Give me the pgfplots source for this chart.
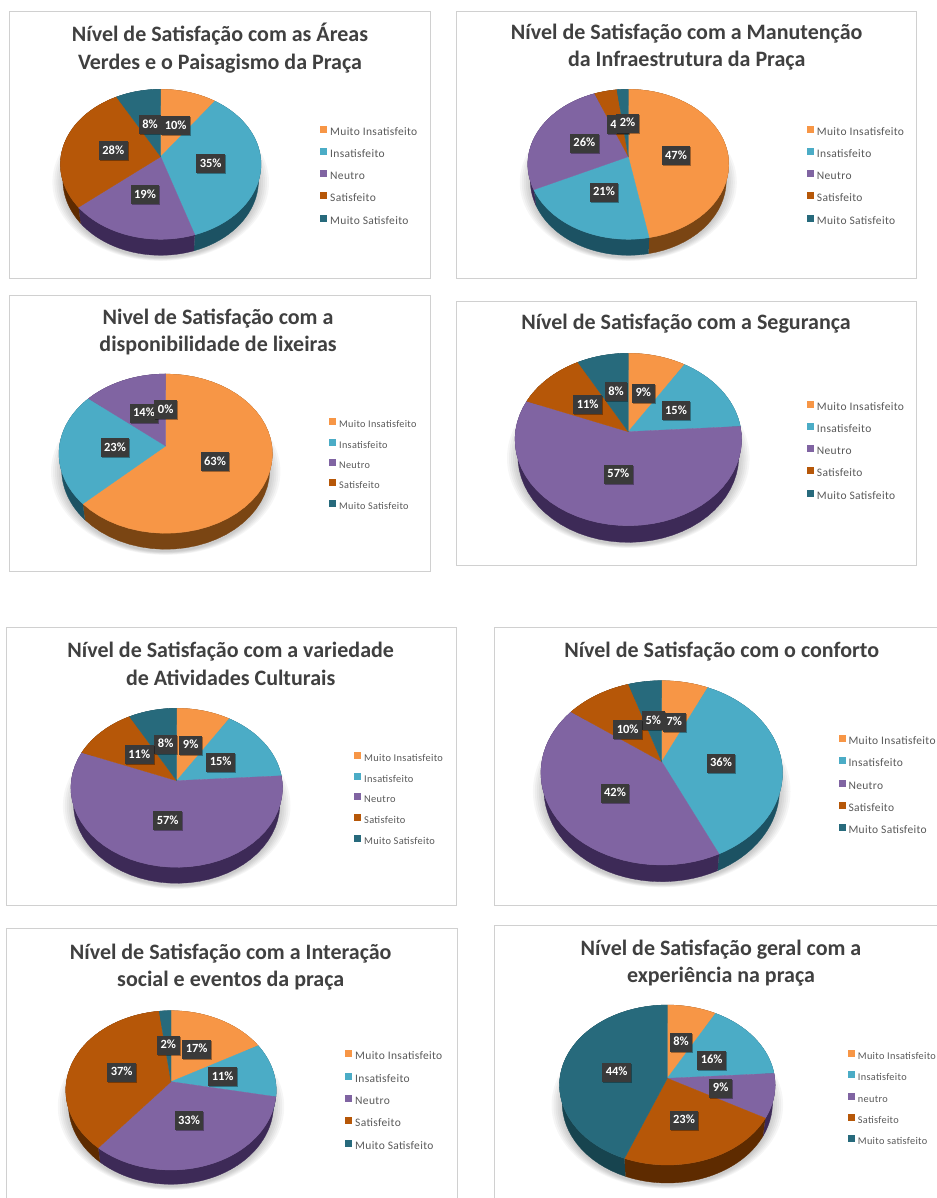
\documentclass[border=0pt]{standalone}
\usepackage{fontspec}
\setmainfont{Carlito}
\usepackage{pgfplots}
\pgfplotsset{compat=1.18}
\usetikzlibrary{shadows}
\definecolor{corA}{HTML}{F79646}
\definecolor{corB}{HTML}{4BACC6}
\definecolor{corC}{HTML}{8064A2}
\definecolor{corD}{HTML}{B65708}
\definecolor{corE}{HTML}{276A7C}
\definecolor{ladoA}{HTML}{7A4513}
\definecolor{ladoB}{HTML}{1C5263}
\definecolor{ladoC}{HTML}{3D2A57}
\definecolor{ladoD}{HTML}{5E2B00}
\definecolor{ladoE}{HTML}{17444F}
\definecolor{moldura}{HTML}{D0D0D0}
\definecolor{tituloc}{HTML}{404040}
\definecolor{caixa}{HTML}{3A3A3A}
\definecolor{leg}{HTML}{595959}
% geometry of one pie: centre x, apex y, half width, top y, bottom y, depth (pixels)
\newcommand\SetPie[6]{%
  \pgfmathsetmacro\PX{#1}\pgfmathsetmacro\PY{#2}\pgfmathsetmacro\PD{#6}%
  \pgfmathsetmacro\PK{((#5-#2)-(#2-#4))/((#5-#2)+(#2-#4))}%
  \pgfmathsetmacro\PB{(#2-#4)*(1+\PK)}%
  \pgfmathsetmacro\PA{#3*sqrt(1-\PK*\PK)}%
  \pgfmathsetmacro\PCY{(#4+#5)/2+#6+2}%
  \pgfmathsetmacro\PHW{#3}\pgfmathsetmacro\PRY{(#5-#4)/2}%
}
\def\FX#1{(\PX+\PA*cos(#1)/(1+\PK*sin(#1)))}
\def\FXB#1{(\PX+(1-0.025*(\u>1.1))*\PA*cos(#1)/(1+\PK*sin(#1)))}
\def\FY#1{(\PY-\PB*sin(#1)/(1+\PK*sin(#1)))}
% side wall of a slice between two cumulative percentages
\newcommand\DoBand[3]{%
  \addplot[forget plot,fill=#3,draw=#3,line width=.3pt,no marks,domain=0:2.2,samples=89,variable=\u]
   ({\FXB{(90-3.6*(#1+(#2-#1)*max(0,min(1,1.1-abs(\u-1.1)))))}},
    {\FY{(90-3.6*(#1+(#2-#1)*max(0,min(1,1.1-abs(\u-1.1)))))}+\PD*(\u>1.1)});
}
% top face of a slice
\newcommand\DoTop[3]{%
  \addplot[forget plot,fill=#3,draw=#3,line width=.3pt,no marks,domain=#1:#2,samples=41,variable=\p]
   ({\FX{(90-3.6*\p)}},{\FY{(90-3.6*\p)}}) -- (axis cs:\PX,\PY) -- cycle;
}
\newcommand\DoSh[1]{\fill[black,opacity=.035] (axis cs:\PX,\PCY) ellipse [x radius=\PHW+#1-4,y radius=\PRY+#1*.3];}
\newcommand\Slices[5]{%
  \DoSh{12}\DoSh{10}\DoSh{8}\DoSh{6}\DoSh{4}\DoSh{2}%
  \pgfmathsetmacro\aA{#1}\pgfmathsetmacro\aB{#1+#2}\pgfmathsetmacro\aC{#1+#2+#3}%
  \pgfmathsetmacro\aD{#1+#2+#3+#4}%
  \edef\tmp{\noexpand\DoBand{0}{\aA}{ladoA}\noexpand\DoBand{\aA}{\aB}{ladoB}\noexpand\DoBand{\aB}{\aC}{ladoC}}\tmp
  \ifdim #4pt>0pt \edef\tmp{\noexpand\DoBand{\aC}{\aD}{ladoD}}\tmp\fi
  \ifdim #5pt>0pt \edef\tmp{\noexpand\DoBand{\aD}{100}{ladoE}}\tmp\fi
  \edef\tmp{\noexpand\DoTop{0}{\aA}{corA}\noexpand\DoTop{\aA}{\aB}{corB}\noexpand\DoTop{\aB}{\aC}{corC}}\tmp
  \ifdim #4pt>0pt \edef\tmp{\noexpand\DoTop{\aC}{\aD}{corD}}\tmp\fi
  \ifdim #5pt>0pt \edef\tmp{\noexpand\DoTop{\aD}{100}{corE}}\tmp\fi
}
\pgfplotsset{
  painel/.style n args={4}{
    at={({#1*1pt},{(1198-#4)*1pt})},anchor=south west,scale only axis,
    width={(#3-#1)*1pt},height={(#4-#2)*1pt},
    xmin=#1,xmax=#3,ymin=#2,ymax=#4,y dir=reverse,
    xtick=\empty,ytick=\empty,clip=false,
    axis line style={draw=moldura,line width=.9pt},
    legend image code/.code={\fill[##1,draw=none] (0pt,-.5pt) rectangle (7pt,6.5pt);},
  },
  legenda/.style n args={4}{
    legend cell align=left,
    legend style={at={(axis cs:#1,#2)},anchor=north west,draw=none,fill=none,inner sep=0pt,
      row sep={#3pt-11.6pt},font=\fontsize{#4}{10}\selectfont\addfontfeatures{LetterSpace=3}\color{leg},
      nodes={inner sep=0pt,text height=8pt,text depth=2pt},
      /tikz/every odd column/.append style={column sep=3pt}},
  },
}
\newcommand\Leg[5]{%
  \addlegendimage{fill=corA}\addlegendimage{fill=corB}\addlegendimage{fill=corC}%
  \addlegendimage{fill=corD}\addlegendimage{fill=corE}%
  \legend{#1,#2,#3,#4,#5}%
}
\tikzset{
  tit/.style={align=center,text=tituloc,font=\fontsize{22}{27.5}\selectfont\bfseries},
  lab/.style={fill=caixa,text=white,font=\fontsize{12.5}{13}\selectfont\bfseries,inner xsep=3.5pt,
    inner ysep=0pt,text height=13pt,text depth=6pt,
    drop shadow={shadow xshift=1pt,shadow yshift=-1pt,opacity=.35,fill=black}},
}
\newcommand\Lab[3]{\node[lab] at (axis cs:#1,#2) {#3\%};}
\begin{document}
\begin{tikzpicture}[x=1pt,y=1pt]
\useasboundingbox (0,0) rectangle (936,1198);
\fill[white] (0,0) rectangle (936,1198);

% 1
\SetPie{160.7}{156.7}{100.3}{89.3}{239.3}{16}
\begin{axis}[painel={9}{11}{430}{278},legenda={320}{126}{22.2}{11.5}]
\Slices{10}{35}{19}{28}{8}
\Leg{Muito Insatisfeito}{Insatisfeito}{Neutro}{Satisfeito}{Muito Satisfeito}
\node[tit] at (axis cs:220,48) {Nível de Satisfação com as Áreas\\Verdes e o Paisagismo da Praça};
\Lab{150}{125}{8}\Lab{175.7}{125.7}{10}\Lab{210.7}{164}{35}\Lab{145}{195}{19}\Lab{113.3}{150.7}{28}
\end{axis}

% 2
\SetPie{628.3}{156.7}{100.5}{89.3}{239.3}{16}
\begin{axis}[painel={456.7}{11}{916.7}{278},legenda={806.7}{126}{22.2}{11.5}]
\Slices{47}{21}{26}{4}{2}
\Leg{Muito Insatisfeito}{Insatisfeito}{Neutro}{Satisfeito}{Muito Satisfeito}
\node[tit] at (axis cs:686.7,47) {Nível de Satisfação com a Manutenção\\da Infraestrutura da Praça};
\Lab{618}{125}{4}\Lab{627.5}{123.3}{2}\Lab{676}{156}{47}\Lab{604}{192.3}{21}\Lab{584.3}{143.3}{26}
\end{axis}

% 3
\SetPie{165.7}{446}{106.7}{374}{533.3}{16}
\begin{axis}[painel={9}{295}{430}{571},legenda={329}{418.3}{20.4}{10.2}]
\Slices{63}{23}{14}{0}{0}
\Leg{Muito Insatisfeito}{Insatisfeito}{Neutro}{Satisfeito}{Muito Satisfeito}
\node[tit] at (axis cs:218,332) {Nivel de Satisfação com a\\disponibilidade de lixeiras};
\Lab{215}{461.7}{63}\Lab{115}{447.7}{23}\Lab{144}{413.3}{14}\Lab{165.7}{410}{0}
\end{axis}

% 4
\SetPie{628.3}{431.7}{113.3}{353.3}{525.7}{16.7}
\begin{axis}[painel={456.7}{301}{916.7}{565},legenda={806.7}{401}{22.2}{11.5}]
\Slices{9}{15}{57}{11}{8}
\Leg{Muito Insatisfeito}{Insatisfeito}{Neutro}{Satisfeito}{Muito Satisfeito}
\node[tit] at (axis cs:686,324) {Nível de Satisfação com a Segurança};
\Lab{616}{392}{8}\Lab{643.3}{393.3}{9}\Lab{676}{411}{15}\Lab{587.7}{405}{11}\Lab{618.3}{474.3}{57}
\end{axis}

% 5
\SetPie{176.7}{780.7}{105.8}{708.3}{867.3}{16}
\begin{axis}[painel={6}{627.3}{456.7}{905},legenda={354}{751.7}{20.8}{10.4}]
\Slices{9}{15}{57}{11}{8}
\Leg{Muito Insatisfeito}{Insatisfeito}{Neutro}{Satisfeito}{Muito Satisfeito}
\node[tit] at (axis cs:230.7,664) {Nível de Satisfação com a variedade\\de Atividades Culturais};
\Lab{165.7}{744.3}{8}\Lab{190.7}{745.3}{9}\Lab{220.7}{762.3}{15}\Lab{139.3}{755}{11}\Lab{167.7}{821}{57}
\end{axis}

% 6
\SetPie{661.7}{761.7}{120.8}{680.7}{865}{16.7}
\begin{axis}[painel={494.3}{627.3}{945}{905},legenda={838.3}{735}{22.3}{11.5}]
\Slices{7}{36}{42}{10}{5}
\Leg{Muito Insatisfeito}{Insatisfeito}{Neutro}{Satisfeito}{Muito Satisfeito}
\node[tit] at (axis cs:721.7,651.7) {Nível de Satisfação com o conforto};
\Lab{653.3}{721}{5}\Lab{674.3}{722.3}{7}\Lab{627.7}{730}{10}\Lab{721}{763.3}{36}\Lab{615}{793.3}{42}
\end{axis}

% 7
\SetPie{171}{1081.7}{105.2}{1010.7}{1170}{14.3}
\begin{axis}[painel={6}{928.3}{457}{1212},legenda={345}{1050}{22.5}{11.5}]
\Slices{17}{11}{33}{37}{2}
\Leg{Muito Insatisfeito}{Insatisfeito}{Neutro}{Satisfeito}{Muito Satisfeito}
\node[tit] at (axis cs:230.7,967) {Nível de Satisfação com a Interação\\social e eventos da praça};
\Lab{168.3}{1045}{2}\Lab{196.7}{1049.3}{17}\Lab{222.7}{1076.7}{11}\Lab{189}{1120.7}{33}\Lab{121.7}{1072.3}{37}
\end{axis}

% 8
\SetPie{667.3}{1078.3}{107.8}{1005}{1165}{18}
\begin{axis}[painel={494.3}{925}{945}{1212},legenda={847.7}{1050}{21.25}{10.3}]
\Slices{8}{16}{9}{23}{44}
\Leg{Muito Insatisfeito}{Insatisfeito}{neutro}{Satisfeito}{Muito satisfeito}
\node[tit] at (axis cs:721,963) {Nível de Satisfação geral com a\\experiência na praça};
\Lab{681}{1042.3}{8}\Lab{711.7}{1060}{16}\Lab{720.7}{1088.3}{9}\Lab{684}{1120}{23}\Lab{616.7}{1072.3}{44}
\end{axis}
\end{tikzpicture}
\end{document}
